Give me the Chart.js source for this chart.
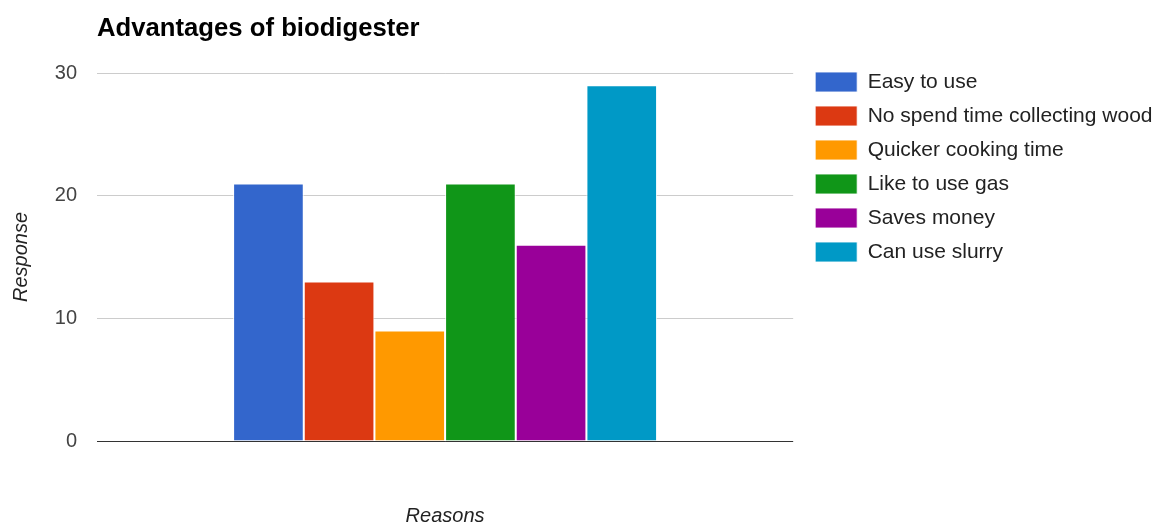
<!DOCTYPE html>
<html>
<head>
<meta charset="utf-8">
<script src="https://cdn.jsdelivr.net/npm/chart.js@4/dist/chart.umd.min.js"></script>
<style>
  html, body { margin: 0; padding: 0; background: #ffffff; }
  #wrap { width: 1158px; height: 528px; position: relative; }
</style>
</head>
<body>
<div id="wrap"><canvas id="chart" width="1158" height="528"></canvas></div>
<script>
// Survey answers: why households value their biodigester
const categories = [''];
const reasons = [
  'Easy to use',
  'No spend time collecting wood',
  'Quicker cooking time',
  'Like to use gas',
  'Saves money',
  'Can use slurry'
];
const responses = [21, 13, 9, 21, 16, 29];
const reasonColors = ['#3366cc', '#dc3912', '#ff9900', '#109618', '#990099', '#0099c6'];
const yTicks = [0, 10, 20, 30];

const FONT = '"Liberation Sans", Arial, sans-serif';

const datasets = reasons.map((name, i) => ({
  label: name,
  data: [responses[i]],
  backgroundColor: reasonColors[i],
  borderColor: 'rgba(255,255,255,0.85)',
  borderWidth: 1,
  borderSkipped: 'bottom',
  barPercentage: 1.0,
  categoryPercentage: 0.609
}));

new Chart(document.getElementById('chart'), {
  type: 'bar',
  data: { labels: categories, datasets },
  options: {
    responsive: false,
    animation: false,
    events: [],
    layout: { padding: { left: 0, top: 0, right: -4.5, bottom: 0 } },
    plugins: {
      tooltip: { enabled: false },
      title: {
        display: true,
        text: 'Advantages of biodigester',
        align: 'start',
        fullSize: false,
        color: '#000000',
        font: { family: FONT, size: 25.7, weight: 'bold', lineHeight: 1.2 },
        padding: { top: 13.4, bottom: 28.8 }
      },
      legend: {
        display: true,
        position: 'right',
        align: 'start',
        maxWidth: 420,
        title: { display: true, text: ' ', font: { size: 10, lineHeight: 1 }, padding: { top: 0, bottom: 48.5 } },
        labels: {
          boxWidth: 42,
          boxHeight: 20,
          padding: 13,
          color: '#222222',
          font: { family: FONT, size: 21 }
        }
      }
    },
    scales: {
      x: {
        type: 'category',
        grid: { display: false },
        border: { display: false },
        ticks: { display: false },
        title: {
          display: true,
          text: 'Reasons',
          color: '#222222',
          font: { family: FONT, size: 20, style: 'italic', lineHeight: 1.2 },
          padding: { top: 0, bottom: 0 }
        },
        afterFit: (s) => { s.height = 87; }
      },
      y: {
        type: 'linear',
        position: 'left',
        min: 0,
        max: 30,
        afterBuildTicks: (s) => { s.ticks = yTicks.map(v => ({ value: v })); },
        grid: {
          drawTicks: false,
          lineWidth: 1,
          color: (ctx) => (ctx.tick && ctx.tick.value === 0 ? '#333333' : '#cccccc')
        },
        border: { display: false },
        ticks: {
          padding: 20,
          color: '#444444',
          font: { family: FONT, size: 20 }
        },
        title: {
          display: true,
          text: 'Response',
          color: '#222222',
          font: { family: FONT, size: 20, style: 'italic', lineHeight: 1.2 },
          padding: { top: 9, bottom: 0 }
        },
        afterFit: (s) => { s.width = 97; }
      },
      gutter: {
        type: 'linear',
        position: 'right',
        display: true,
        grid: { display: false },
        border: { display: false },
        ticks: { display: false },
        afterFit: (s) => { s.width = 9; }
      }
    }
  }
});
</script>
</body>
</html>
